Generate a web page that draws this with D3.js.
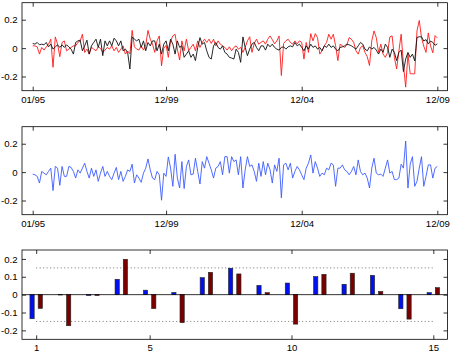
<!DOCTYPE html>
<html>
<head>
<meta charset="utf-8">
<script src="https://cdn.jsdelivr.net/npm/d3@7"></script>
<style>
body { margin: 0; background: #fff; }
svg { display: block; font-family: "Liberation Sans", Arial, Helvetica, sans-serif; }
</style>
</head>
<body>
<script>
// monthly series 01/95 .. 12/09 (180 points)
var dateTicks = [0, 59, 119, 179];
var dateLabels = ["01/95", "12/99", "12/04", "12/09"];

var redSeries = [
	0.016, 0.016, 0.009, -0.042, 0.005, -0.014, 0.009, 0.028, 0.063, -0.135,
	0.079, 0.028, -0.060, 0.040, 0.051, -0.019, -0.007, 0.005, 0.016, 0.016,
	0.040, 0.051, 0.098, -0.030, -0.007, -0.042, 0.005, -0.007, -0.019, 0.009,
	-0.002, -0.030, -0.014, 0.005, -0.007, 0.016, -0.019, 0.005, -0.030, -0.007,
	0.016, -0.042, -0.020, -0.040, 0.125, 0.009, -0.007, -0.014, 0.016, -0.014,
	0.020, 0.125, 0.063, 0.028, -0.030, 0.051, 0.086, -0.125, 0.000, 0.020,
	-0.065, 0.051, 0.086, 0.098, -0.007, -0.084, 0.051, -0.019, 0.063, -0.019,
	0.005, 0.028, -0.019, 0.051, 0.005, 0.040, 0.063, 0.040, 0.063, 0.033,
	0.063, 0.016, 0.051, 0.028, 0.016, 0.005, -0.014, 0.009, -0.019, 0.005,
	0.016, -0.007, 0.005, -0.030, 0.005, 0.051, 0.080, -0.030, 0.033, 0.063,
	0.028, 0.040, 0.051, 0.028, 0.063, 0.086, 0.060, 0.030, 0.050, 0.086,
	-0.193, 0.033, 0.051, 0.063, 0.040, 0.028, 0.051, 0.030, 0.051, 0.040,
	-0.077, 0.040, -0.030, 0.102, 0.051, 0.102, 0.074, -0.042, -0.019, 0.016,
	0.040, 0.098, 0.063, 0.098, 0.016, -0.088, 0.028, 0.016, 0.005, 0.023,
	0.074, 0.063, 0.040, -0.019, -0.042, 0.005, 0.016, -0.030, -0.060, -0.123,
	0.051, 0.121, 0.074, -0.030, 0.028, -0.042, -0.065, -0.030, 0.079, 0.086,
	-0.065, -0.147, -0.019, 0.098, -0.112, -0.275, -0.042, -0.181, -0.181, -0.181,
	0.121, 0.195, 0.074, 0.014, -0.030, 0.107, 0.016, -0.033, 0.088, 0.072
];

var blackSeries = [
	0.033, 0.028, 0.040, 0.023, 0.028, 0.023, 0.040, 0.009, 0.028, -0.007,
	0.009, 0.023, 0.005, 0.023, 0.005, 0.023, 0.009, -0.007, -0.042, 0.040,
	0.051, 0.056, -0.019, 0.016, 0.056, -0.042, 0.016, 0.040, 0.063, 0.005,
	0.063, -0.053, 0.051, 0.016, 0.051, 0.016, 0.070, 0.051, 0.016, 0.051,
	-0.019, -0.007, -0.030, -0.147, 0.079, 0.063, 0.051, 0.063, 0.005, 0.051,
	-0.019, 0.040, 0.016, 0.051, 0.051, -0.019, 0.028, -0.042, 0.028, 0.051,
	-0.019, 0.063, 0.028, -0.042, 0.051, 0.005, 0.016, -0.065, -0.042, -0.019,
	-0.065, -0.042, -0.088, 0.005, 0.074, 0.028, 0.040, -0.019, -0.065, -0.077,
	0.016, 0.040, 0.005, -0.007, 0.016, -0.030, -0.042, -0.065, -0.070, -0.077,
	-0.007, -0.030, -0.100, 0.079, 0.005, -0.053, -0.007, 0.028, 0.040, 0.005,
	-0.019, 0.016, 0.016, -0.014, 0.028, 0.009, 0.028, 0.005, -0.007, -0.014,
	0.005, 0.009, -0.007, 0.009, 0.016, 0.009, 0.040, 0.016, 0.028, 0.005,
	-0.019, 0.016, -0.007, 0.028, 0.005, 0.016, -0.007, 0.005, -0.019, 0.016,
	0.005, 0.028, 0.005, 0.016, -0.007, -0.019, 0.005, 0.009, 0.016, 0.028,
	0.023, 0.016, 0.005, -0.007, 0.016, 0.040, 0.028, -0.007, -0.019, 0.009,
	-0.007, 0.005, -0.014, -0.042, -0.007, -0.030, 0.028, 0.005, -0.065, -0.007,
	-0.030, -0.088, -0.030, -0.014, -0.165, -0.077, -0.030, -0.065, -0.042, -0.090,
	0.075, 0.080, 0.080, 0.050, 0.060, 0.030, 0.050, 0.040, 0.020, 0.030
];

var blueSeries = [
	-0.014, -0.019, -0.030, -0.077, 0.005, -0.007, -0.019, 0.005, 0.028, -0.130,
	0.040, 0.028, -0.093, 0.040, -0.030, -0.030, 0.040, 0.033, 0.005, -0.042,
	0.016, -0.007, 0.028, 0.063, 0.005, -0.042, 0.028, -0.030, 0.016, -0.065,
	-0.007, 0.040, -0.030, 0.005, -0.030, -0.053, -0.007, 0.033, -0.053, 0.005,
	-0.065, -0.030, 0.016, 0.005, 0.056, -0.077, -0.019, -0.042, -0.072, -0.007,
	0.028, 0.093, 0.016, -0.042, -0.053, 0.005, -0.019, -0.198, -0.007, -0.030,
	0.107, 0.028, -0.100, 0.126, -0.042, -0.112, 0.074, -0.116, 0.040, 0.086,
	-0.019, -0.014, 0.098, 0.005, -0.084, 0.074, 0.028, 0.109, 0.063, 0.016,
	-0.042, 0.028, 0.040, 0.074, -0.019, 0.109,
	0.109, -0.007, 0.109, 0.074, 0.086, -0.019, 0.109, -0.112, 0.016, 0.109,
	0.040, 0.051, 0.005, -0.065, 0.063, -0.030, 0.074, -0.019, 0.063, 0.016,
	-0.077, 0.051, 0.005, 0.098, -0.181, 0.051, 0.063, 0.016, 0.063, -0.042,
	0.005, 0.040, 0.016, -0.019, -0.053, 0.028, 0.063, 0.121, -0.007, 0.074,
	0.028, -0.030, -0.007, -0.019, 0.028, 0.016, 0.063, 0.051, -0.100, 0.028,
	0.028, 0.051, 0.016, 0.005, -0.019, 0.005, 0.040, -0.019, 0.086, 0.005,
	-0.019, -0.007, -0.042, -0.112, 0.028, 0.098, -0.007, -0.019, -0.014, -0.030,
	0.028, 0.086, -0.007, 0.005, -0.053, -0.053, -0.042, 0.056, 0.028, 0.219,
	-0.112, 0.056, 0.109, -0.100, -0.065, 0.028, 0.109, -0.100, -0.030, 0.051,
	0.051, -0.042, 0.028, 0.040
];

// bottom panel: correlations by lag
var lags = [1, 2, 3, 4, 5, 6, 7, 8, 9, 10, 11, 12, 13, 14, 15];
var blueBars = [-0.135, -0.002, -0.005, 0.086, 0.025, 0.012, 0.095, 0.148, 0.052, 0.065, 0.101, 0.058, 0.108, -0.079, 0.011];
var redBars = [-0.077, -0.174, -0.005, 0.198, -0.078, -0.157, 0.125, 0.116, 0.011, -0.165, 0.114, 0.120, 0.018, -0.137, 0.039];
var bandLevel = 0.15;
var lagTicks = [1, 5, 10, 15];

var width = 453, height = 353;
var left = 22, right = 447.5;

var svg = d3.select("body").append("svg").attr("width", width).attr("height", height);

function drawFrame(g, x, y, xTicks, xFormat, yTicks, yFormat) {
	var h = y.range()[0], w = x.range()[1];
	g.append("g").attr("transform", "translate(0," + h + ")")
		.call(d3.axisBottom(x).tickValues(xTicks).tickFormat(xFormat).tickSize(-4).tickSizeOuter(0).tickPadding(5));
	g.append("g")
		.call(d3.axisTop(x).tickValues(xTicks).tickFormat("").tickSize(-4).tickSizeOuter(0));
	g.append("g")
		.call(d3.axisLeft(y).tickValues(yTicks).tickFormat(yFormat).tickSize(-4).tickSizeOuter(0).tickPadding(4.5));
	g.append("g").attr("transform", "translate(" + w + ",0)")
		.call(d3.axisRight(y).tickValues(yTicks).tickFormat("").tickSize(-4).tickSizeOuter(0));
	g.selectAll(".domain").remove();
	g.selectAll(".tick line").attr("stroke", "#000").attr("stroke-width", 0.8);
	g.selectAll(".tick text").attr("font-size", 9.6).attr("fill", "#000");
	g.append("rect").attr("x", 0).attr("y", 0).attr("width", w).attr("height", h)
		.attr("fill", "none").attr("stroke", "#000").attr("stroke-width", 0.8);
}

var yFmt = function (d) { return d === 0 ? "0" : String(d); };

function timePanel(top, series, colors) {
	var g = svg.append("g").attr("transform", "translate(" + left + "," + top + ")");
	var x = d3.scaleLinear().domain([-4.73, 183.5]).range([0, right - left]);
	var y = d3.scaleLinear().domain([-0.3, 0.32]).range([88, 0]);
	var line = d3.line().x(function (d, i) { return x(i); }).y(function (d) { return y(d); });
	series.forEach(function (s, k) {
		g.append("path").datum(s)
			.attr("d", line)
			.attr("fill", "none")
			.attr("stroke", colors[k])
			.attr("stroke-width", 0.9)
			.attr("stroke-linejoin", "round");
	});
	drawFrame(g, x, y, dateTicks, function (d, i) { return dateLabels[i]; }, [-0.2, 0, 0.2], yFmt);
}

timePanel(2.7, [redSeries, blackSeries], ["#ff1a1a", "#111"]);
timePanel(126.7, [blueSeries], ["#3d5bff"]);

// bar panel
var gb = svg.append("g").attr("transform", "translate(" + left + ",250)");
var xb = d3.scaleLinear().domain([0.5, 15.5]).range([0, right - left]);
var yb = d3.scaleLinear().domain([-0.25, 0.25]).range([89.3, 0]);
var off = 0.145, bw = 0.15;

gb.selectAll("line.band")
	.data([bandLevel, -bandLevel])
	.enter()
	.append("line")
	.attr("x1", xb(lags[0])).attr("x2", xb(lags[lags.length - 1]))
	.attr("y1", function (d) { return yb(d); }).attr("y2", function (d) { return yb(d); })
	.attr("stroke", "#555").attr("stroke-width", 0.8).attr("stroke-dasharray", "1,2.5");

[[blueBars, "#0010f0", -off], [redBars, "#7a0000", off]].forEach(function (set) {
	gb.selectAll(null)
		.data(set[0])
		.enter()
		.append("rect")
		.attr("x", function (d, i) { return xb(lags[i] + set[2] - bw / 2); })
		.attr("width", xb(bw) - xb(0))
		.attr("y", function (d) { return yb(Math.max(0, d)); })
		.attr("height", function (d) { return Math.abs(yb(d) - yb(0)); })
		.attr("fill", set[1])
		.attr("stroke", "#222")
		.attr("stroke-width", 0.6);
});

gb.append("line").attr("x1", 0).attr("x2", right - left).attr("y1", yb(0)).attr("y2", yb(0))
	.attr("stroke", "#000").attr("stroke-width", 0.8);

drawFrame(gb, xb, yb, lagTicks, d3.format("d"), [-0.2, -0.1, 0, 0.1, 0.2], yFmt);
</script>
</body>
</html>
